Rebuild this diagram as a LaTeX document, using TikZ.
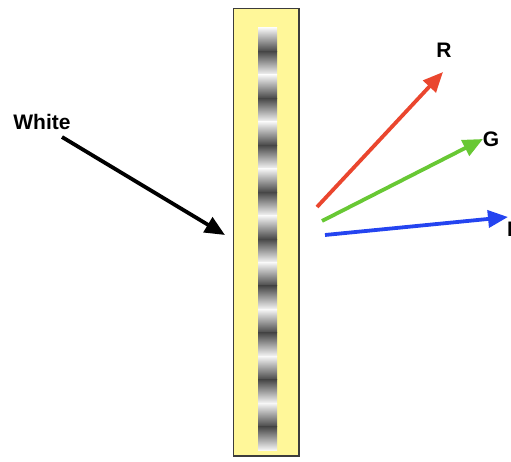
\documentclass[tikz,border=0pt]{standalone}
\usepackage{fontspec}
\setmainfont{Liberation Sans}
\usetikzlibrary{arrows.meta}
\definecolor{slabfill}{RGB}{255,247,153}
\definecolor{slabedge}{RGB}{60,60,60}
\definecolor{fringedark}{RGB}{72,72,72}
\definecolor{fringemid}{RGB}{150,150,150}
\definecolor{fringelight}{RGB}{246,246,246}
\definecolor{rayred}{RGB}{234,70,46}
\definecolor{raygreen}{RGB}{104,200,52}
\definecolor{rayblue}{RGB}{36,68,240}
\tikzset{
  ray/.style={line width=3.8pt, -{Triangle[length=20pt,width=17pt]}},
  lbl/.style={font=\fontsize{21}{25}\selectfont\bfseries, inner sep=0pt}
}
\begin{document}
\begin{tikzpicture}[x=1pt,y=-1pt]
\useasboundingbox (0,0) rectangle (511,462);
% hologram slab
\draw[fill=slabfill, draw=slabedge, line width=1.5pt] (233.5,8.5) rectangle (299,456);
% recorded fringe pattern: alternating light/dark bands
\foreach \i in {0,...,8}{
  \pgfmathsetmacro{\ya}{28+\i*46.9}
  \pgfmathsetmacro{\yb}{\ya+23.45}
  \pgfmathsetmacro{\yc}{\ya+46.9}
  \shade[top color=fringelight, middle color=fringemid, bottom color=fringedark] (258,\ya) rectangle (277,\yb);
  \shade[top color=fringedark, middle color=fringemid, bottom color=fringelight] (258,\yb) rectangle (277,\yc);
}
% incoming white light
\node[lbl, anchor=center] (white) at (42,122) {White};
\coordinate (win) at (62,137);
\coordinate (wtip) at (225,235);
\draw[ray, black] (win) -- (wtip);
% diffracted colours
\coordinate (rs) at (317,207);
\coordinate (rt) at (443,72);
\coordinate (gs) at (322,221);
\coordinate (gt) at (483,139);
\coordinate (bs) at (325,235);
\coordinate (bt) at (508,217);
\draw[ray, rayred] (rs) -- (rt);
\draw[ray, raygreen] (gs) -- (gt);
\draw[ray, rayblue] (bs) -- (bt);
\node[lbl] (R) at (444,50) {R};
\node[lbl] (G) at (491,139) {G};
\node[lbl, anchor=west] (B) at (507,229) {B};
\end{tikzpicture}
\end{document}
